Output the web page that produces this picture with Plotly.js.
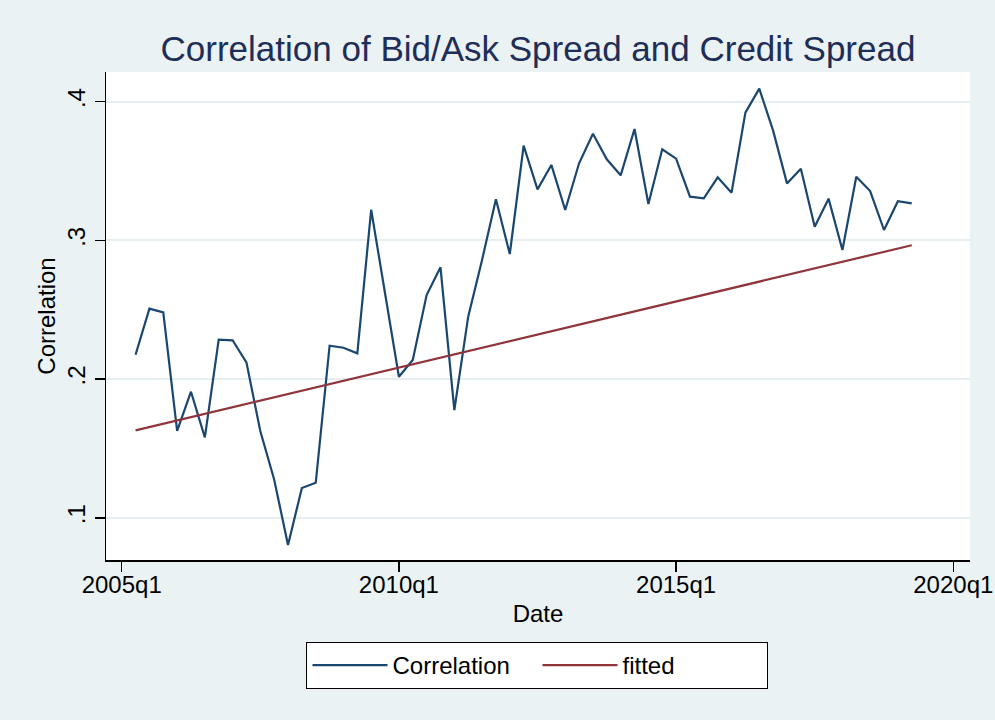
<!DOCTYPE html>
<html>
<head>
<meta charset="utf-8">
<script src="https://cdn.plot.ly/plotly-3.0.1.min.js"></script>
<style>html,body{margin:0;padding:0;background:#eaf2f3;}#chart{width:995px;height:720px;}</style>
</head>
<body>
<div id="chart"></div>
<script>
// Quarterly dates (Stata %tq)
var quarters = [
  '2005q2','2005q3','2005q4','2006q1','2006q2','2006q3','2006q4',
  '2007q1','2007q2','2007q3','2007q4','2008q1','2008q2','2008q3','2008q4',
  '2009q1','2009q2','2009q3','2009q4','2010q1','2010q2','2010q3','2010q4',
  '2011q1','2011q2','2011q3','2011q4','2012q1','2012q2','2012q3','2012q4',
  '2013q1','2013q2','2013q3','2013q4','2014q1','2014q2','2014q3','2014q4',
  '2015q1','2015q2','2015q3','2015q4','2016q1','2016q2','2016q3','2016q4',
  '2017q1','2017q2','2017q3','2017q4','2018q1','2018q2','2018q3','2018q4',
  '2019q1','2019q2'
];
var correlation = [
  0.2176,0.2508,0.2481,0.1626,0.1909,0.1580,0.2284,
  0.2280,0.2121,0.1626,0.1277,0.0804,0.1215,0.1253,0.2241,
  0.2226,0.2186,0.3221,0.2619,0.2017,0.2138,0.2606,0.2806,
  0.1777,0.2450,0.2859,0.3296,0.2902,0.3683,0.3368,0.3544,
  0.3219,0.3556,0.3769,0.3585,0.3469,0.3803,0.3262,0.3657,
  0.3589,0.3315,0.3303,0.3455,0.3344,0.3921,0.4094,0.3791,
  0.3411,0.3517,0.3099,0.3301,0.2931,0.3459,0.3356,0.3075,
  0.3282,0.3267
];
var fittedQuarters = ['2005q2','2019q2'];
var fittedValues = [0.1630, 0.2965];

var xTickQuarters = ['2005q1','2010q1','2015q1','2020q1'];
var yTickVals = [0.1, 0.2, 0.3, 0.4];
var yTickText = ['.1', '.2', '.3', '.4'];

function q2num(s) {
  var parts = s.split('q');
  return parseInt(parts[0], 10) + (parseInt(parts[1], 10) - 1) / 4;
}

var FONT = 'Arial, "Liberation Sans", Helvetica, sans-serif';

var traces = [
  {
    x: quarters.map(q2num), y: correlation, type: 'scatter', mode: 'lines',
    name: 'Correlation', line: {color: '#1a476f', width: 2.2},
    hoverinfo: 'skip'
  },
  {
    x: fittedQuarters.map(q2num), y: fittedValues, type: 'scatter', mode: 'lines',
    name: 'fitted', line: {color: '#90353b', width: 2.2},
    hoverinfo: 'skip'
  }
];

var layout = {
  width: 995, height: 720,
  paper_bgcolor: '#eaf2f3', plot_bgcolor: '#ffffff',
  margin: {l: 106, r: 25, t: 72, b: 160, pad: 0},
  font: {family: FONT, size: 24, color: '#000000'},
  title: {
    text: 'Correlation of Bid/Ask Spread and Credit Spread',
    font: {family: FONT, size: 35, color: '#1e2e58'},
    x: 0.5, xref: 'paper', xanchor: 'center',
    y: 0.932, yref: 'container', yanchor: 'middle'
  },
  xaxis: {
    range: [2004.717, 2020.301],
    tickvals: xTickQuarters.map(q2num), ticktext: xTickQuarters,
    ticks: 'outside', ticklen: 10, tickwidth: 1.5, tickcolor: '#000',
    ticklabelstandoff: -7,
    showgrid: false, zeroline: false,
    showline: true, linecolor: '#000', linewidth: 1.5,
    tickfont: {family: FONT, size: 24, color: '#000'},
    title: {text: 'Date', font: {family: FONT, size: 24, color: '#000'}, standoff: 8},
    automargin: false, fixedrange: true
  },
  yaxis: {
    range: [0.0696, 0.4214],
    tickvals: yTickVals, ticktext: yTickText, tickangle: -90,
    ticks: 'outside', ticklen: 10, tickwidth: 1.5, tickcolor: '#000',
    showgrid: true, gridcolor: '#e6eef1', gridwidth: 2,
    zeroline: false,
    showline: true, linecolor: '#000', linewidth: 1.5,
    tickfont: {family: FONT, size: 24, color: '#000'},
    title: {text: 'Correlation', font: {family: FONT, size: 24, color: '#000'}, standoff: 0},
    automargin: false, fixedrange: true
  },
  showlegend: true,
  legend: {
    orientation: 'h', x: 0.4994, xanchor: 'center', y: -0.168, yanchor: 'top',
    bgcolor: '#ffffff', bordercolor: '#000000', borderwidth: 1,
    font: {family: FONT, size: 24, color: '#000'},
    entrywidth: 140, entrywidthmode: 'pixels',
    itemwidth: 75, traceorder: 'normal'
  }
};

Plotly.newPlot('chart', traces, layout, {staticPlot: true, displayModeBar: false});
</script>
</body>
</html>
